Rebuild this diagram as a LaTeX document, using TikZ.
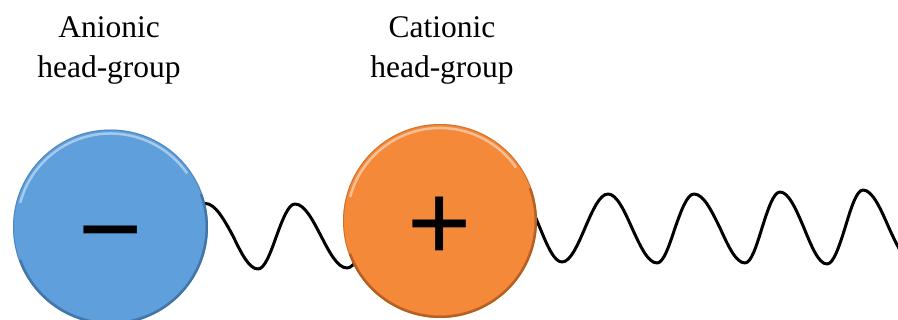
\documentclass[tikz,border=0pt]{standalone}
\usepackage{fontspec}
\setmainfont{Liberation Serif}
\newfontfamily\signfont{Liberation Sans}
\usetikzlibrary{backgrounds}
\definecolor{aniblue}{HTML}{5E9FDC}
\definecolor{catorange}{HTML}{F5893A}
\definecolor{aniedge}{HTML}{3A6A98}
\definecolor{catedge}{HTML}{A3541B}
\begin{document}
\begin{tikzpicture}[x=1pt,y=-1pt,
  headball/.style={circle, inner sep=0pt, outer sep=0pt, minimum size=#1,
    font=\signfont\fontsize{110}{110}\selectfont},
  lbl/.style={align=center, inner sep=0pt, font=\fontsize{31.5}{40}\selectfont},
  chain/.style={line width=3pt, black, line join=round, line cap=round},
  hilite/.style={white, opacity=0.45, line width=2.5pt},
  rim/.style={line width=2.5pt, opacity=0.7},
  outline/.style={line width=1pt, opacity=0.45}
]
\useasboundingbox (0,0) rectangle (898,320);

% head-groups
\node[headball=195pt, fill=aniblue] (an) at (110.5,227)
  {\raisebox{-0.36em}[0pt][0pt]{−}};
\node[headball=194pt, fill=catorange] (ca) at (440,221)
  {\raisebox{-0.36em}[0pt][0pt]{+}};

% bevel effect
\begin{scope}[shift={(an.center)}, y=1pt]
  \draw[outline, aniedge] (0,0) circle[radius=97];
  \draw[rim, aniedge] (200:96.2) arc[start angle=200, end angle=380, radius=96.2];
  \draw[hilite] (165:93.5) arc[start angle=165, end angle=35, radius=93.5];
\end{scope}
\begin{scope}[shift={(ca.center)}, y=1pt]
  \draw[outline, catedge] (0,0) circle[radius=96.5];
  \draw[rim, catedge] (200:95.7) arc[start angle=200, end angle=380, radius=95.7];
  \draw[hilite] (165:93) arc[start angle=165, end angle=35, radius=93];
\end{scope}

% labels
\node[lbl] (antxt) at (109,50) {Anionic\\head-group};
\node[lbl] (catxt) at (442,50) {Cationic\\head-group};

% tails
\coordinate (w1end) at (368,236);
\coordinate (w2start) at (518,194);
\begin{scope}[on background layer]
  \clip (0,0) rectangle (898,320);
  \draw[chain] (an.14) cos (233,236) sin (258,269) cos (276.5,236) sin (295,204)
    cos (321,236) sin (347,268) cos (w1end);
  \draw[chain] (w2start) cos (540,228) sin (562,262) cos (585,228) sin (608,194)
    cos (632,228) sin (657,263) cos (675,228) sin (694,194)
    cos (720,228) sin (745,263) cos (762,228) sin (780,192)
    cos (804,228) sin (827,264) cos (845,228) sin (863,190)
    cos (889,228) sin (915,264);
\end{scope}
\end{tikzpicture}
\end{document}
